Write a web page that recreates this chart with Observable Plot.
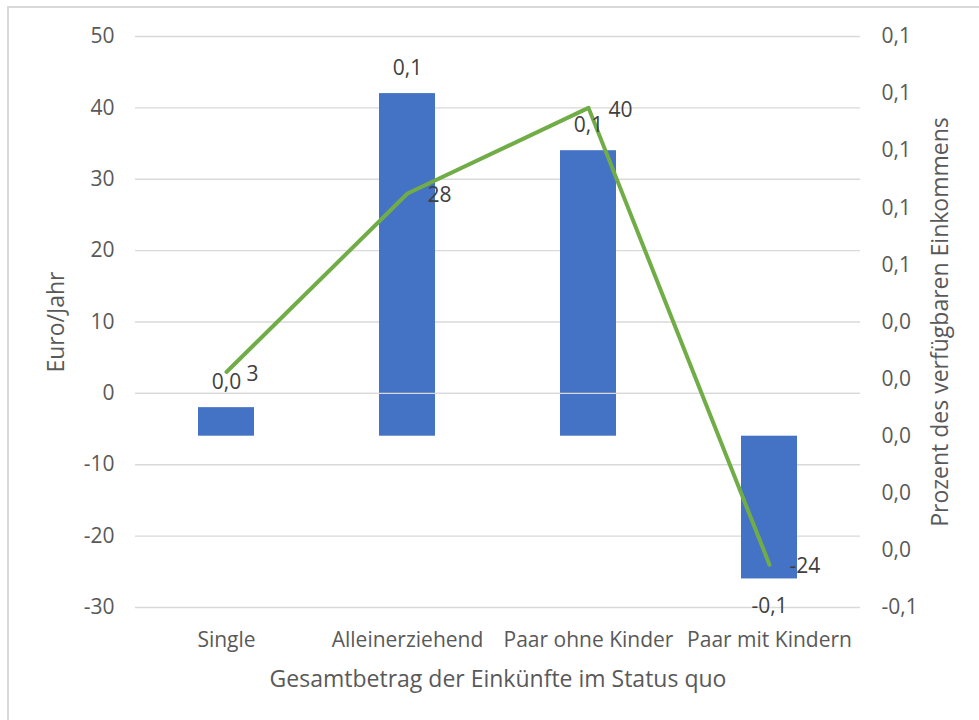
<!DOCTYPE html>
<html><head><meta charset="utf-8">
<script src="https://cdn.jsdelivr.net/npm/d3@7"></script>
<script src="https://cdn.jsdelivr.net/npm/@observablehq/plot@0.6"></script>
<style>
body{margin:0;background:#fff;overflow:hidden}
#wrap{position:relative;width:979px;height:720px;overflow:hidden;background:#fff}
#frame{position:absolute;left:7px;top:6px;width:1200px;height:1000px;border-left:2px solid #d9d9d9;border-top:2px solid #d9d9d9;box-sizing:border-box}
#chart{position:absolute;left:0;top:0}
</style></head><body>
<div id="wrap"><div id="frame"></div><div id="chart"></div></div>
<script>
const categories = ["Single", "Alleinerziehend", "Paar ohne Kinder", "Paar mit Kindern"];
const euroPerYear = [3, 28, 40, -24];
const percentIncome = [0.01, 0.12, 0.10, -0.05];
const leftTicks = [-30, -20, -10, 0, 10, 20, 30, 40, 50];
const rightTicks = [-0.06, -0.04, -0.02, 0, 0.02, 0.04, 0.06, 0.08, 0.10, 0.12, 0.14];
const xTitle = "Gesamtbetrag der Einkünfte im Status quo";
const yLeftTitle = "Euro/Jahr";
const yRightTitle = "Prozent des verfügbaren Einkommens";

const leftDomain = [leftTicks[0], leftTicks[leftTicks.length - 1]];
const rightDomain = [rightTicks[0], rightTicks[rightTicks.length - 1]];
// secondary (right) axis values mapped onto the primary y scale
const toLeft = d3.scaleLinear().domain(rightDomain).range(leftDomain);
const fmt1 = v => {
  const r = Math.sign(v) * Math.round(Math.abs(v) * 10) / 10;
  return (r === 0 ? 0 : r).toFixed(1).replace(".", ",");
};

const data = categories.map((c, i) => ({cat: c, euro: euroPerYear[i], pct: percentIncome[i]}));

const FONT = "'Open Sans', sans-serif";
const chart = Plot.plot({
  width: 979, height: 720,
  marginLeft: 135, marginRight: 119, marginTop: 36, marginBottom: 113,
  style: {fontFamily: FONT, fontSize: "21px", color: "#595959", background: "transparent", overflow: "visible"},
  x: {domain: categories, paddingInner: 0.69, paddingOuter: 0.345, axis: null},
  y: {domain: leftDomain, axis: null},
  marks: [
    Plot.gridY(leftTicks, {stroke: "#d9d9d9", strokeOpacity: 1, strokeWidth: 1.3}),
    Plot.barY(data, {x: "cat", y1: () => toLeft(0), y2: d => toLeft(d.pct), fill: "#4472C4"}),
    Plot.ruleY([0], {stroke: "#d9d9d9", strokeWidth: 1.3}),
    Plot.line(data, {x: "cat", y: "euro", stroke: "#70AD47", strokeWidth: 4, strokeLinejoin: "round"}),
    Plot.text(data, {filter: d => d.pct >= 0, x: "cat", y: d => toLeft(d.pct), text: d => fmt1(d.pct), dy: -25, fill: "#404040", fontSize: 21}),
    Plot.text(data, {filter: d => d.pct < 0, x: "cat", y: d => toLeft(d.pct), text: d => fmt1(d.pct), dy: 27, fill: "#404040", fontSize: 21}),
    Plot.text(data, {x: "cat", y: "euro", text: d => String(d.euro), textAnchor: "start", dx: 20, dy: 2, fill: "#404040", fontSize: 21}),
    Plot.axisY({ticks: leftTicks, anchor: "left", tickSize: 0, tickPadding: 21, label: null, fontSize: 21, tickFormat: d => String(d)}),
    Plot.axisY({ticks: rightTicks.map(toLeft), anchor: "right", tickSize: 0, tickPadding: 21, label: null, fontSize: 21,
      tickFormat: v => fmt1(toLeft.invert(v))}),
    Plot.axisX({tickSize: 0, tickPadding: 25, label: null, fontSize: 21}),
    Plot.text([xTitle], {frameAnchor: "bottom", text: d => d, dy: 79, fontSize: 23, fill: "#595959", lineAnchor: "bottom", textAnchor: "middle"}),
    Plot.text([yLeftTitle], {frameAnchor: "left", text: d => d, rotate: -90, dx: -79, fontSize: 23, fill: "#595959", textAnchor: "middle"}),
    Plot.text([yRightTitle], {frameAnchor: "right", text: d => d, rotate: -90, dx: 80, fontSize: 23, fill: "#595959", textAnchor: "middle"})
  ]
});
document.getElementById("chart").appendChild(chart);
</script>
</body></html>
